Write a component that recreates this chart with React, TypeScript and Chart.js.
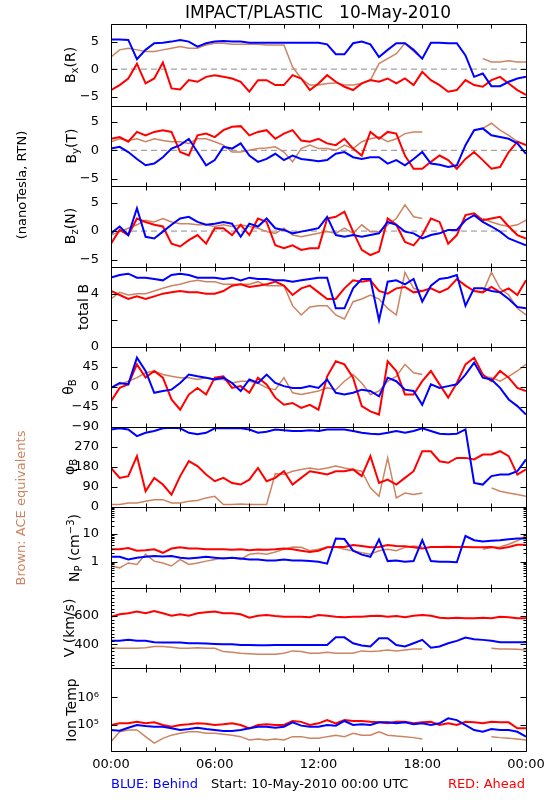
import React, { useEffect, useRef } from "react";
import { Chart, registerables } from "chart.js";

Chart.register(...registerables);

const FONT = '"DejaVu Sans", "Liberation Sans", sans-serif';
const BLUE = "#0000ff";
const RED = "#ff0000";
const BROWN = "#cc8462";
const ZERO_GRAY = "#8c8c8c";

// time axis (hours since 10-May-2010 00:00 UTC)
const HOURS = [0, 0.5, 1, 1.5, 2, 2.5, 3, 3.5, 4, 4.5, 5, 5.5, 6, 6.5, 7, 7.5, 8, 8.5, 9, 9.5, 10, 10.5, 11, 11.5, 12, 12.5, 13, 13.5, 14, 14.5, 15, 15.5, 16, 16.5, 17, 17.5, 18, 18.5, 19, 19.5, 20, 20.5, 21, 21.5, 22, 22.5, 23, 23.5, 24];
const X_TICK_HOURS = [0, 2, 4, 6, 8, 10, 12, 14, 16, 18, 20, 22, 24];
const X_LABEL_HOURS = [0, 6, 12, 18, 24];
const X_LABELS = ["00:00", "06:00", "12:00", "18:00", "00:00"];
const ZERO_LINE_X = [0, 24];
const ZERO_LINE_Y = [0, 0];

// Bx (R)
const BX_BEHIND = [5.4, 5.4, 5.3, 1.8, 3.5, 4.7, 4.8, 5.0, 5.3, 5.0, 4.1, 4.7, 5.0, 5.1, 5.0, 5.0, 4.8, 4.8, 4.8, 4.8, 4.8, 4.8, 4.8, 4.8, 4.8, 4.5, 2.7, 2.7, 4.7, 5.0, 4.5, 2.2, 3.5, 4.7, 4.7, 3.5, 1.9, 4.8, 4.8, 4.7, 4.7, 2.5, -1.4, -0.8, -3.1, -3.1, -2.3, -1.7, -1.4];
const BX_AHEAD = [-3.8, -2.9, -1.7, 1.0, -2.6, -1.7, 1.2, -3.5, -3.7, -2.0, -2.3, -1.4, -1.1, -1.4, -1.7, -2.3, -4.1, -2.0, -2.0, -2.9, -2.9, -1.1, -1.7, -3.8, -2.6, -1.1, -2.3, -3.2, -3.8, -2.6, -2.0, -2.3, -1.7, -2.6, -1.7, -2.9, -0.5, -2.0, -2.9, -4.1, -3.8, -2.0, -2.9, -3.2, -2.0, -1.4, -2.6, -3.8, -4.7];
const BX_ACE = [2.2, 3.5, 3.8, 3.5, 3.2, 3.2, 3.5, 3.8, 4.1, 3.8, 3.8, 4.4, 4.7, 4.7, 4.5, 4.5, 4.5, 4.5, 4.4, 4.4, 4.4, 0.4, -1.7, -2.9, -2.9, -2.6, -2.5, -2.9, -2.9, -2.6, -2.0, 1.0, 1.9, 2.8, 4.7, 3.2, 1.9, null, null, null, null, null, null, 1.9, 1.3, 1.3, 1.5, 1.3, 1.3];

// By (T)
const BY_BEHIND = [0.3, 0.6, -0.3, -1.5, -2.6, -2.3, -1.2, 0.3, 0.9, 2.0, -0.3, -2.6, -1.7, 0.6, 0.3, 1.2, -0.9, -2.0, -1.5, -0.6, -1.7, -0.9, -1.5, -1.7, -1.9, -1.7, -0.6, -0.3, -1.2, -1.5, -1.2, -1.2, -2.3, -1.7, -2.6, -1.5, -0.3, -2.3, -2.5, -2.9, -2.6, 0.9, 3.5, 3.8, 2.6, 2.3, 2.0, 1.2, -0.6];
const BY_AHEAD = [2.0, 2.3, 1.5, 3.2, 2.6, 3.2, 3.5, 3.2, -0.3, -0.9, 2.6, 2.9, 2.3, 3.5, 4.1, 4.2, 2.6, 3.2, 3.5, 2.0, 2.9, 3.5, 1.7, 1.5, 2.0, 1.2, 0.9, 2.0, 0.3, -0.9, 3.2, 2.0, 3.2, 2.9, -0.9, -3.2, -3.2, -2.0, -0.9, -1.7, -3.2, -1.5, -0.3, -1.7, -3.2, -2.9, -0.3, 1.5, 0.9];
const BY_ACE = [1.5, 2.0, 1.7, 2.0, 1.5, 2.0, 1.7, 1.5, 1.5, 1.2, 2.0, 2.0, 1.5, 0.9, -0.3, -0.3, 0, 0.3, 0.4, 0.6, -0.3, -2.0, 0.3, 0.9, 0.3, 0.3, 0, 0.9, 0.3, 1.5, 2.0, 2.3, 1.5, 2.0, 2.9, 3.2, 3.2, null, null, null, null, null, null, 3.8, 4.7, 3.5, 2.6, 1.5, 0.9];

// Bz (N)
const BZ_BEHIND = [-0.4, 0.8, -0.7, 4.0, -1.0, -1.3, -0.1, 1.1, 2.2, 2.5, 1.6, 1.1, 1.3, 1.6, 1.3, -1.0, 1.3, 0.8, 2.2, 0.5, 0.2, -0.4, -0.1, 0.2, 0.5, 2.5, -0.7, -1.0, -0.7, -1.0, -0.7, -0.4, 1.6, 1.1, -0.1, -0.4, -1.3, -0.7, -0.4, 0.2, 0.2, 1.9, 2.8, 1.6, 0.8, -0.1, -1.3, -1.9, -2.5];
const BZ_AHEAD = [-2.2, 0.2, -0.7, 2.2, 1.6, 1.1, 0.8, -2.2, -2.7, -1.6, -0.7, -2.2, 0.5, 0.5, -0.7, 1.1, -0.7, 2.2, 1.6, -2.5, -3.0, -2.5, -3.3, -3.0, -3.0, 2.2, 2.5, 3.4, -0.1, -3.3, -4.2, -3.6, 2.2, 1.1, -1.9, -2.5, -0.7, 2.2, 1.6, -2.2, -0.7, 2.8, 3.1, 1.9, 2.2, 2.5, 0.8, -0.7, -1.3];
const BZ_ACE = [-0.7, -0.1, 0.5, 1.1, 1.9, 1.6, 2.2, 1.6, 1.3, 1.3, 1.1, 1.1, 0.8, 1.1, 0.8, 1.1, 0.8, 0.5, -0.1, -0.4, 0.5, -0.7, -1.0, -0.7, -0.4, -0.1, -0.4, 0.5, -0.4, 1.1, -0.1, -0.1, 1.1, 2.2, 4.6, 2.5, 2.2, null, null, null, null, null, null, 2.2, 1.6, 1.1, 0.8, 1.1, 1.9];

// total B
const BT_BEHIND = [5.2, 5.4, 5.5, 5.2, 5.2, 5.1, 5.0, 5.4, 5.5, 5.4, 5.2, 5.2, 5.2, 5.1, 5.2, 5.0, 5.2, 5.1, 5.1, 5.0, 5.0, 4.9, 5.0, 5.1, 5.2, 5.2, 2.9, 2.9, 4.4, 5.1, 5.1, 2.0, 4.9, 5.0, 4.7, 5.1, 3.4, 4.6, 5.1, 5.2, 5.4, 3.1, 4.4, 4.4, 4.2, 4.1, 3.6, 3.0, 2.9];
const BT_AHEAD = [4.2, 3.9, 3.6, 3.8, 3.6, 3.8, 4.0, 4.1, 4.2, 4.1, 4.1, 4.0, 4.0, 4.2, 4.6, 4.7, 4.5, 4.6, 4.7, 4.9, 4.6, 3.9, 4.4, 4.6, 4.1, 3.6, 3.6, 4.4, 5.0, 4.9, 5.0, 4.2, 4.0, 4.4, 4.5, 4.1, 4.2, 4.4, 4.1, 4.4, 5.1, 4.6, 4.2, 4.1, 4.5, 4.1, 4.4, 3.9, 5.0];
const BT_ACE = [3.6, 4.1, 3.9, 4.0, 4.0, 4.2, 4.4, 4.6, 4.7, 4.9, 5.0, 4.9, 4.9, 4.7, 4.7, 4.7, 4.7, 4.9, 4.6, 4.6, 4.6, 3.1, 2.4, 3.0, 3.1, 3.1, 2.4, 2.1, 3.4, 3.6, 3.9, 3.6, 2.9, 2.4, 5.6, 4.4, 4.2, null, null, null, null, null, null, 4.1, 5.6, 4.4, 3.9, 2.9, 2.4];

// theta_B (deg)
const TH_BEHIND = [-2, 9, 6, 66, 36, -13, -9, -6, 9, 28, 24, 21, 17, 21, 9, -9, 17, 9, 28, 9, 2, -2, -2, 2, -2, 17, -13, -17, -13, -6, -9, -21, 21, 13, -6, -9, -40, 6, -2, 2, 6, 28, 55, 21, 17, -2, -28, -43, -62];
const TH_AHEAD = [-32, -2, 6, 51, 21, 36, 21, -28, -51, -17, -2, -17, 21, 24, -2, 2, -13, 21, 6, -24, -40, -36, -47, -40, -51, 24, 58, 51, 21, -43, -55, -62, 58, 36, -17, -17, 13, 36, 6, -24, 9, 51, 66, 28, 13, 36, 21, -2, -9];
const TH_ACE = [-2, 6, 13, 21, 32, 36, 28, 24, 21, 21, 17, 21, 17, 17, 9, 13, 13, 9, -2, -6, 21, -13, -17, -13, -9, -2, -6, 13, 28, 9, -17, -9, 13, 24, 51, 32, 28, null, null, null, null, null, null, 24, 21, 13, 24, 36, 51];

// phi_B (deg)
const PH_BEHIND = [349, 354, 349, 319, 334, 342, 354, 357, 354, 334, 327, 334, 354, 354, 354, 354, 349, 334, 339, 349, 345, 342, 342, 345, 342, 349, 349, 349, 342, 334, 330, 327, 334, 342, 334, 342, 354, 342, 330, 327, 330, 349, 108, 101, 139, 146, 146, 161, 214];
const PH_AHEAD = [176, 131, 139, 229, 71, 131, 101, 56, 139, 206, 184, 146, 116, 131, 108, 101, 123, 176, 116, 131, 161, 101, 131, 161, 154, 146, 161, 161, 169, 139, 229, 108, 123, 101, 131, 161, 251, 251, 206, 199, 221, 221, 214, 236, 236, 251, 229, 146, 169];
const PH_ACE = [11, 11, 18, 18, 26, 33, 33, 18, 18, 26, 29, 41, 48, 11, 11, 14, 11, 11, 11, 150, 146, 161, 169, 176, 169, 176, 184, 176, 169, 161, 86, 48, 221, 41, 63, 56, 63, null, null, null, null, null, null, null, 86, 71, 63, 56, 48];

// Np (cm^-3)
const NP_BEHIND = [1.5, 1.5, 1.2, 1.4, 1.5, 1.6, 1.55, 1.6, 1.4, 1.3, 1.4, 1.5, 1.4, 1.3, 1.4, 1.3, 1.2, 1.2, 1.1, 1.1, 1.2, 1.1, 1.1, 1.05, 1.0, 0.85, 6.9, 6.6, 2.5, 1.8, 1.5, 6.4, 1.05, 1.1, 1.0, 1.05, 6.0, 1.05, 1.0, 1.0, 0.95, 8.5, 6.0, 5.4, 5.7, 6.0, 6.5, 6.9, 6.9];
const NP_AHEAD = [2.8, 2.8, 3.1, 2.5, 2.6, 2.8, 2.1, 3.0, 3.3, 3.0, 3.0, 2.8, 2.8, 2.8, 2.7, 2.8, 2.6, 2.75, 2.7, 2.8, 3.0, 2.8, 2.5, 2.25, 2.5, 3.3, 3.4, 3.4, 4.0, 3.7, 3.3, 3.4, 4.0, 3.7, 3.6, 3.3, 3.0, 3.4, 3.4, 3.5, 3.4, 3.4, 3.3, 3.3, 3.4, 3.0, 3.4, 4.1, 4.1];
const NP_ACE = [0.7, 0.6, 0.9, 0.8, 1.85, 1.05, 0.9, 0.7, 1.2, 0.8, 0.9, 1.05, 1.2, 1.4, 1.4, 1.2, 1.85, 2.0, 1.85, 2.25, 2.8, 3.4, 3.3, 2.5, 2.8, 3.3, 3.4, 2.8, 2.5, 2.1, 1.85, 2.5, 2.8, 2.5, 3.3, 3.7, 3.4, null, null, null, null, null, null, 2.8, 3.3, 3.4, 4.3, 5.7, 8.7];

// V (km/s)
const V_BEHIND = [424, 424, 431, 424, 424, 414, 412, 412, 412, 407, 407, 405, 402, 400, 400, 395, 395, 393, 393, 395, 395, 395, 395, 395, 395, 395, 449, 449, 407, 391, 384, 442, 442, 395, 384, 407, 431, 376, 384, 407, 424, 447, 435, 431, 424, 414, 414, 414, 414];
const V_AHEAD = [595, 612, 619, 631, 619, 635, 619, 602, 612, 602, 619, 626, 631, 619, 619, 612, 588, 602, 607, 600, 595, 595, 595, 591, 607, 602, 595, 591, 595, 595, 600, 602, 595, 600, 591, 602, 607, 602, 588, 584, 588, 584, 584, 588, 584, 595, 591, 584, 584];
const V_ACE = [376, 372, 372, 372, 376, 384, 384, 379, 372, 372, 376, 372, 372, 348, 344, 336, 332, 329, 329, 329, 336, 353, 348, 336, 336, 344, 336, 336, 336, 353, 348, 353, 360, 353, 360, 367, 367, null, null, null, null, null, null, null, 372, 367, 367, 365, 360];

// Ion Temp (K)
const T_BEHIND = [6.6e4, 6.2e4, 8.0e4, 1.0e5, 9.2e4, 8.7e4, 8.7e4, 7.6e4, 6.6e4, 7.2e4, 8.0e4, 7.2e4, 6.6e4, 6.1e4, 6.1e4, 6.6e4, 7.6e4, 8.7e4, 8.7e4, 8.0e4, 8.7e4, 1.25e5, 9.5e4, 8.7e4, 8.7e4, 1.0e5, 9.5e4, 1.4e5, 1.0e5, 1.06e5, 1.0e5, 1.25e5, 1.25e5, 1.15e5, 1.25e5, 1.06e5, 1.15e5, 1.0e5, 1.15e5, 1.74e5, 1.5e5, 1.0e5, 6.6e4, 5.7e4, 7.2e4, 6.6e4, 6.6e4, 5.7e4, 3.8e4];
const T_AHEAD = [1.0e5, 1.15e5, 1.15e5, 1.3e5, 1.15e5, 1.25e5, 1.0e5, 8.7e4, 1.0e5, 1.06e5, 1.15e5, 1.12e5, 1.0e5, 1.06e5, 1.15e5, 1.0e5, 7.6e4, 1.0e5, 1.06e5, 1.0e5, 1.0e5, 1.4e5, 1.3e5, 1.0e5, 1.15e5, 1.5e5, 1.15e5, 1.5e5, 1.4e5, 1.4e5, 1.3e5, 1.25e5, 1.15e5, 1.3e5, 1.3e5, 1.15e5, 1.25e5, 1.3e5, 1.0e5, 1.15e5, 1.0e5, 1.3e5, 1.25e5, 1.15e5, 1.3e5, 1.25e5, 1.25e5, 7.6e4, 7.6e4];
const T_ACE = [2.5e4, 5.7e4, 6.6e4, 6.6e4, 3.8e4, 2.2e4, 3.3e4, 4.3e4, 5.0e4, 5.7e4, 5.7e4, 5.0e4, 5.0e4, 4.6e4, 4.3e4, 3.8e4, 2.9e4, 3.1e4, 2.9e4, 3.1e4, 2.9e4, 3.8e4, 3.8e4, 3.3e4, 3.3e4, 3.8e4, 4.3e4, 3.8e4, 5.0e4, 4.3e4, 4.3e4, 5.7e4, 4.3e4, 4.0e4, 3.8e4, 3.5e4, 3.1e4, null, null, null, null, null, null, null, 3.8e4, 3.5e4, 3.3e4, 3.1e4, 2.9e4];

// axis tick values
const B_LABELS = [-5, 0, 5];
const BT_LABELS = [0, 4];
const BT_MAJOR = [2, 4];
const TH_LABELS = [-90, -45, 0, 45];
const TH_MAJOR = [-45, 0, 45];
const PH_LABELS = [0, 90, 180, 270];
const PH_MAJOR = [90, 180, 270];
const NP_LABELS = [1, 10];
const NP_MINOR = [0.2, 0.3, 0.4, 0.5, 0.6, 0.7, 0.8, 0.9, 2, 3, 4, 5, 6, 7, 8, 9, 20, 30, 40, 50, 60, 70, 80, 90];
const V_LABELS = [400, 600];
const V_MINOR = [250, 275, 300, 325, 350, 375, 425, 450, 475, 500, 525, 550, 575, 625, 650, 675, 700, 725, 750, 775];
const T_LABELS = [1e5, 1e6];

type Series = (number | null)[];
interface Panel {
  id: string;
  type: "linear" | "logarithmic";
  min: number;
  max: number;
  height: number;
  labels: number[];
  major: number[];
  minor: number[];
  zero: boolean;
  series: [Series, Series, Series];
}

const PANELS: Panel[] = [
  { id: "yBx", type: "linear", min: -6.7, max: 8.2, height: 82, labels: B_LABELS, major: B_LABELS, minor: [], zero: true, series: [BX_BEHIND, BX_AHEAD, BX_ACE] },
  { id: "yBy", type: "linear", min: -6.2, max: 7.7, height: 80, labels: B_LABELS, major: B_LABELS, minor: [], zero: true, series: [BY_BEHIND, BY_AHEAD, BY_ACE] },
  { id: "yBz", type: "linear", min: -6.3, max: 7.9, height: 81, labels: B_LABELS, major: B_LABELS, minor: [], zero: true, series: [BZ_BEHIND, BZ_AHEAD, BZ_ACE] },
  { id: "yBt", type: "linear", min: 0, max: 6, height: 80, labels: BT_LABELS, major: BT_MAJOR, minor: [], zero: false, series: [BT_BEHIND, BT_AHEAD, BT_ACE] },
  { id: "yTh", type: "linear", min: -90, max: 90, height: 80, labels: TH_LABELS, major: TH_MAJOR, minor: [], zero: false, series: [TH_BEHIND, TH_AHEAD, TH_ACE] },
  { id: "yPh", type: "linear", min: 0, max: 360, height: 80, labels: PH_LABELS, major: PH_MAJOR, minor: [], zero: false, series: [PH_BEHIND, PH_AHEAD, PH_ACE] },
  { id: "yNp", type: "logarithmic", min: 0.112, max: 95, height: 81, labels: NP_LABELS, major: NP_LABELS, minor: NP_MINOR, zero: false, series: [NP_BEHIND, NP_AHEAD, NP_ACE] },
  { id: "yV", type: "linear", min: 232, max: 798, height: 80, labels: V_LABELS, major: V_LABELS, minor: V_MINOR, zero: false, series: [V_BEHIND, V_AHEAD, V_ACE] },
  { id: "yT", type: "logarithmic", min: 1.15e4, max: 1.15e7, height: 83, labels: T_LABELS, major: T_LABELS, minor: [], zero: false, series: [T_BEHIND, T_AHEAD, T_ACE] },
];

function tickText(id: string, v: number): string {
  if (id === "yT") return v > 5e5 ? "10\u2076" : "10\u2075";
  if (v < 0) return "\u2212" + String(Math.abs(v));
  return String(v);
}

const panelClip = {
  id: "panelClip",
  beforeDatasetDraw(chart: any, args: any) {
    const ys = args.meta.yScale;
    const ca = chart.chartArea;
    const ctx = chart.ctx;
    ctx.save();
    ctx.beginPath();
    ctx.rect(ca.left, ys.top, ca.right - ca.left, ys.bottom - ys.top);
    ctx.clip();
  },
  afterDatasetDraw(chart: any) {
    chart.ctx.restore();
  },
};

const panelFrame = {
  id: "panelFrame",
  afterDatasetsDraw(chart: any) {
    const { ctx, chartArea: ca } = chart;
    const xs = chart.scales.x;
    const L = Math.round(ca.left) + 0.5;
    const R = Math.round(ca.right) + 0.5;
    ctx.save();
    ctx.strokeStyle = "#000";
    ctx.lineWidth = 1;
    PANELS.forEach((p) => {
      const ys = chart.scales[p.id];
      const top = Math.round(ys.top) + 0.5;
      const bot = Math.round(ys.bottom) + 0.5;
      ctx.beginPath();
      ctx.rect(L, top, R - L, bot - top);
      const yTick = (v: number, len: number) => {
        const y = Math.round(ys.getPixelForValue(v)) + 0.5;
        ctx.moveTo(L, y);
        ctx.lineTo(L + len, y);
        ctx.moveTo(R, y);
        ctx.lineTo(R - len, y);
      };
      p.major.forEach((v) => yTick(v, 6));
      p.minor.forEach((v) => yTick(v, 3));
      X_TICK_HOURS.forEach((h) => {
        const x = Math.round(xs.getPixelForValue(h)) + 0.5;
        ctx.moveTo(x, top);
        ctx.lineTo(x, top + 4);
        ctx.moveTo(x, bot);
        ctx.lineTo(x, bot - 4);
      });
      ctx.stroke();
    });
    ctx.restore();
  },
};

function Rot(props: { x: number; y: number; size: number; color?: string; children: React.ReactNode }) {
  return (
    <div
      style={{
        position: "absolute",
        left: props.x,
        top: props.y,
        transform: "translate(-50%, -50%) rotate(-90deg)",
        whiteSpace: "pre",
        fontSize: props.size,
        lineHeight: 1,
        color: props.color || "#000",
      }}
    >
      {props.children}
    </div>
  );
}

const Sub = (props: { children: React.ReactNode }) => (
  <span style={{ fontSize: "0.72em", verticalAlign: "-0.3em" }}>{props.children}</span>
);
const Sup = (props: { children: React.ReactNode }) => (
  <span style={{ fontSize: "0.72em", verticalAlign: "0.45em" }}>{props.children}</span>
);

export default function App() {
  const ref = useRef<HTMLCanvasElement>(null);

  useEffect(() => {
    document.body.style.margin = "0";
    const canvas = ref.current;
    if (!canvas) return;

    const scales: any = {
      x: {
        type: "linear",
        position: "bottom",
        min: 0,
        max: 24,
        bounds: "data",
        grid: { display: false },
        border: { display: false },
        afterBuildTicks: (s: any) => {
          s.ticks = X_LABEL_HOURS.map((v) => ({ value: v }));
        },
        afterFit: (s: any) => {
          s.height = 49;
        },
        ticks: {
          autoSkip: false,
          maxRotation: 0,
          minRotation: 0,
          padding: -2,
          color: "#000",
          font: { family: FONT, size: 13 },
          callback: (_v: any, i: number) => X_LABELS[i],
        },
      },
    };

    const datasets: any[] = [];
    PANELS.forEach((p, i) => {
      scales[p.id] = {
        type: p.type,
        position: "left",
        stack: "panels",
        stackWeight: p.height,
        weight: PANELS.length - i,
        min: p.min,
        max: p.max,
        bounds: "data",
        grid: { display: false },
        border: { display: false },
        afterBuildTicks: (s: any) => {
          s.ticks = p.labels.map((v) => ({ value: v }));
        },
        afterFit: (s: any) => {
          s.width = 111;
        },
        ticks: {
          autoSkip: false,
          padding: 4,
          color: "#000",
          font: { family: FONT, size: 13 },
          callback: (v: any) => tickText(p.id, Number(v)),
        },
      };
      const [behind, ahead, ace] = p.series;
      const mk = (arr: Series) => arr.map((v, k) => ({ x: HOURS[k], y: v }));
      datasets.push({
        label: "Behind " + p.id,
        data: mk(behind),
        borderColor: BLUE,
        backgroundColor: BLUE,
        borderWidth: 2,
        pointRadius: 0,
        spanGaps: false,
        yAxisID: p.id,
        xAxisID: "x",
      });
      datasets.push({
        label: "Ahead " + p.id,
        data: mk(ahead),
        borderColor: RED,
        backgroundColor: RED,
        borderWidth: 2,
        pointRadius: 0,
        spanGaps: false,
        yAxisID: p.id,
        xAxisID: "x",
      });
      datasets.push({
        label: "ACE " + p.id,
        data: mk(ace),
        borderColor: BROWN,
        backgroundColor: BROWN,
        borderWidth: 1.5,
        pointRadius: 0,
        spanGaps: false,
        yAxisID: p.id,
        xAxisID: "x",
      });
      if (p.zero) {
        datasets.push({
          label: "zero " + p.id,
          data: ZERO_LINE_X.map((x, k) => ({ x, y: ZERO_LINE_Y[k] })),
          borderColor: ZERO_GRAY,
          borderWidth: 1,
          borderDash: [6, 4],
          pointRadius: 0,
          yAxisID: p.id,
          xAxisID: "x",
        });
      }
    });

    const chart = new Chart(canvas, {
      type: "line",
      data: { datasets },
      options: {
        animation: false,
        responsive: false,
        maintainAspectRatio: false,
        devicePixelRatio: 1,
        events: [],
        layout: { padding: { top: 24, right: 24, left: 0, bottom: 0 } },
        plugins: { legend: { display: false }, tooltip: { enabled: false }, title: { display: false } },
        scales,
      } as any,
      plugins: [panelClip, panelFrame],
    });
    return () => chart.destroy();
  }, []);

  return (
    <div
      style={{
        position: "relative",
        width: 550,
        height: 800,
        background: "#fff",
        fontFamily: FONT,
        color: "#000",
        overflow: "hidden",
      }}
    >
      <style>{"body{margin:0}"}</style>
      <canvas ref={ref} width={550} height={800} style={{ position: "absolute", left: 0, top: 0 }} />
      <div
        style={{
          position: "absolute",
          left: 318,
          top: 12,
          transform: "translate(-50%, -50%)",
          whiteSpace: "pre",
          fontSize: 17,
          lineHeight: 1,
        }}
      >
        {"IMPACT/PLASTIC   10-May-2010"}
      </div>

      <Rot x={21} y={185} size={13}>(nanoTesla, RTN)</Rot>
      <Rot x={20} y={508} size={13} color={BROWN}>Brown: ACE equivalents</Rot>

      <Rot x={72} y={65} size={14}>B<Sub>x</Sub>(R)</Rot>
      <Rot x={73} y={146} size={14}>B<Sub>y</Sub>(T)</Rot>
      <Rot x={72} y={226} size={14}>B<Sub>z</Sub>(N)</Rot>
      <Rot x={83} y={307} size={14}>total B</Rot>
      <Rot x={70} y={387} size={14}>θ<Sub>B</Sub></Rot>
      <Rot x={71} y={467} size={14}>φ<Sub>B</Sub></Rot>
      <Rot x={75} y={548} size={14}>N<Sub>P</Sub> (cm<Sup>−3</Sup>)</Rot>
      <Rot x={69} y={628} size={14}>V (km/s)</Rot>
      <Rot x={71} y={710} size={14}>Ion Temp</Rot>

      <div style={{ position: "absolute", left: 111, top: 783, transform: "translateY(-50%)", fontSize: 13, lineHeight: 1, color: BLUE, whiteSpace: "pre" }}>
        BLUE: Behind
      </div>
      <div style={{ position: "absolute", left: 211, top: 783, transform: "translateY(-50%)", fontSize: 13, lineHeight: 1, whiteSpace: "pre" }}>
        Start: 10-May-2010 00:00 UTC
      </div>
      <div style={{ position: "absolute", right: 25, top: 783, transform: "translateY(-50%)", fontSize: 13, lineHeight: 1, color: RED, whiteSpace: "pre" }}>
        RED: Ahead
      </div>
    </div>
  );
}
